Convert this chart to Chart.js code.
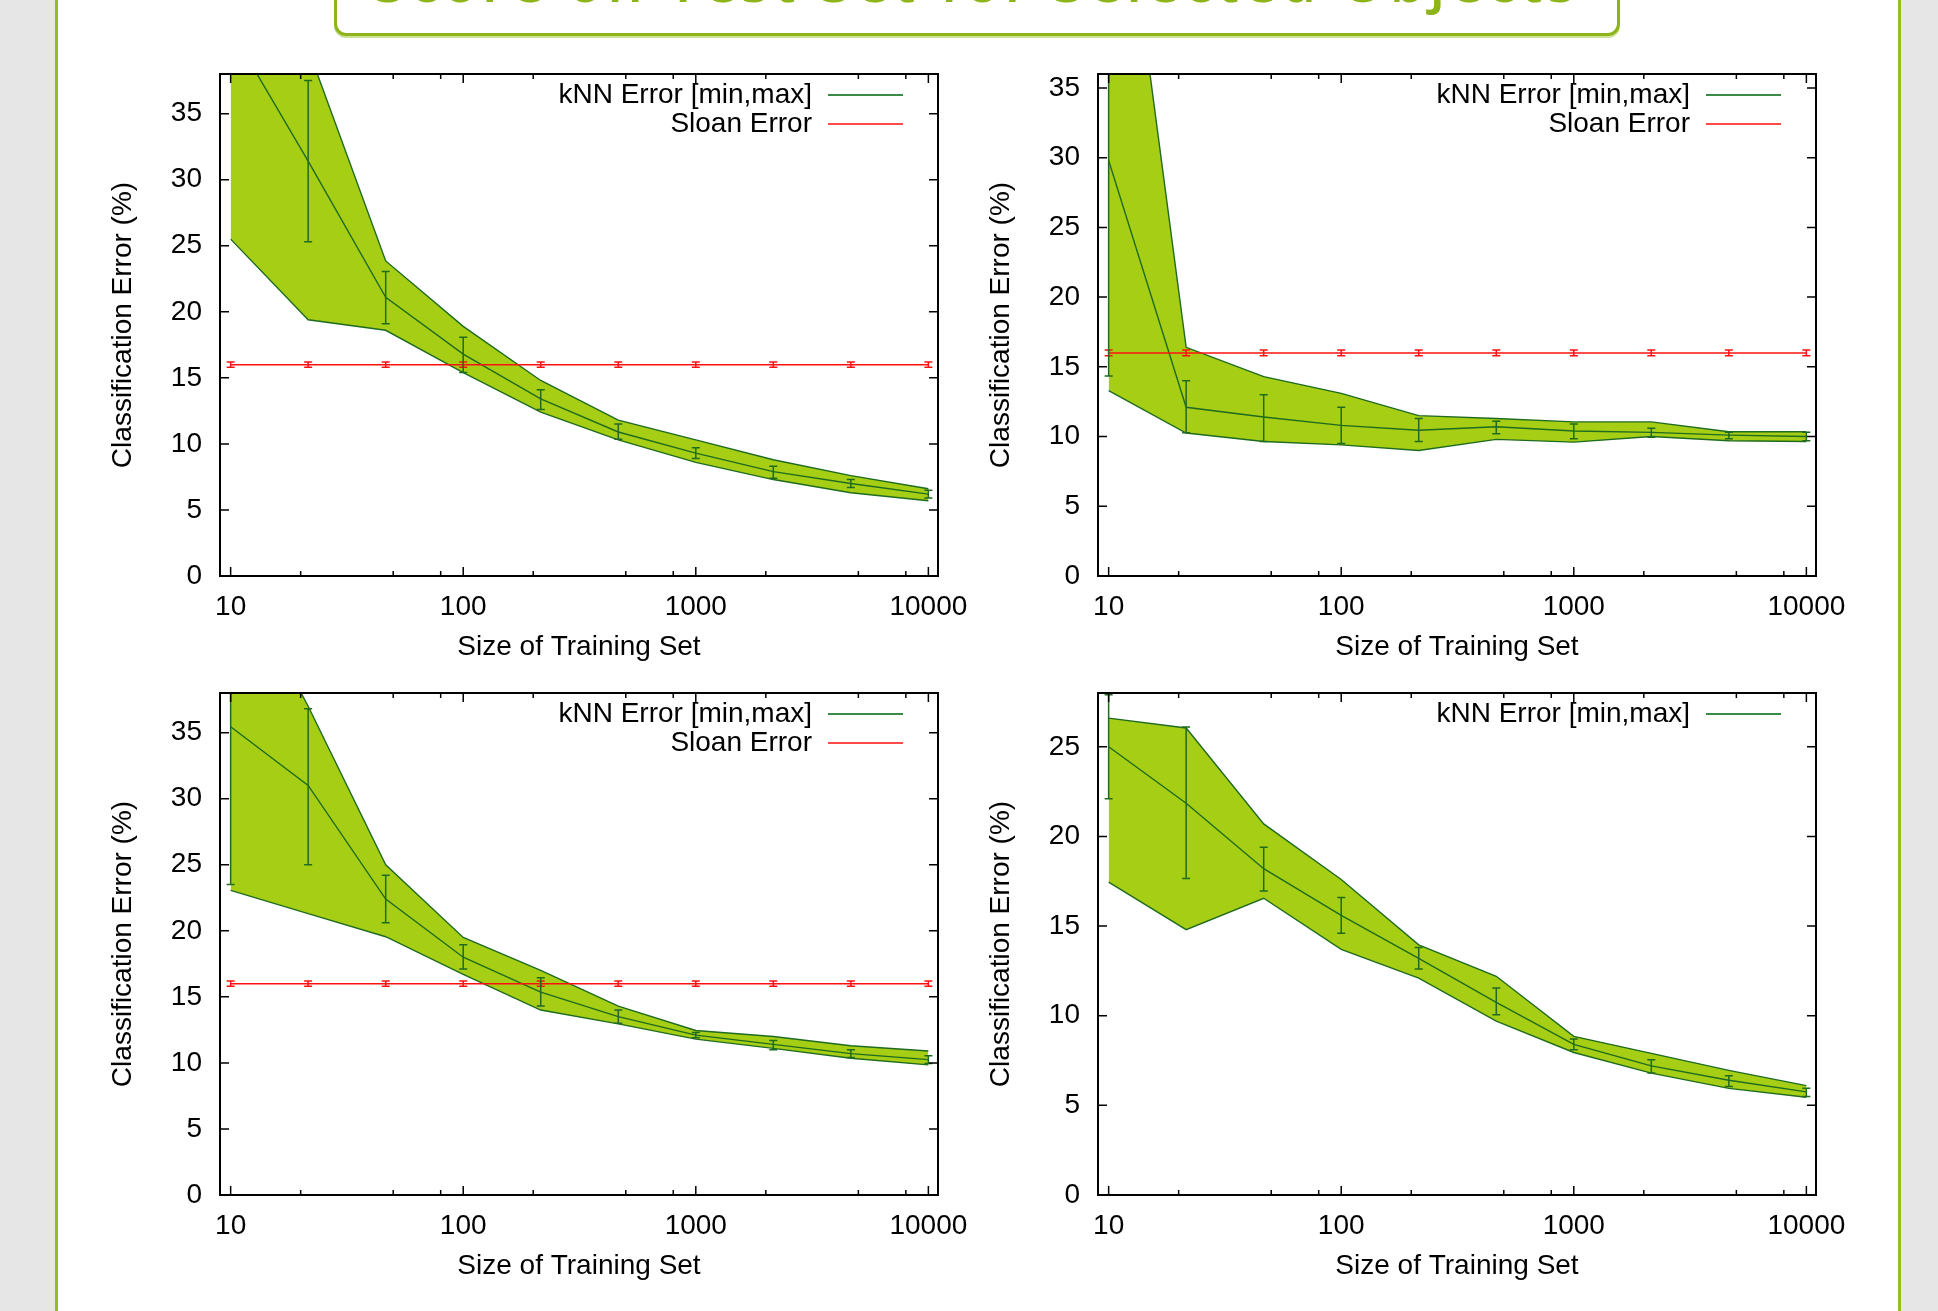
<!DOCTYPE html>
<html>
<head>
<meta charset="utf-8">
<script src="https://cdn.jsdelivr.net/npm/chart.js@4.4.1/dist/chart.umd.min.js"></script>
<style>
  html, body { margin: 0; padding: 0; }
  body { width: 1938px; height: 1311px; background: #e6e6e6; position: relative; overflow: hidden; }
  #panel { position: absolute; left: 55px; top: 0; width: 1846px; height: 1311px; box-sizing: border-box;
           background: #fff; border-left: 3px solid #95bd1c; border-right: 3px solid #95bd1c; }
  #titleBox { position: absolute; left: 334px; top: -60px; width: 1286px; height: 96px; box-sizing: border-box;
              border: 3px solid #8db51a; border-radius: 12px; background: #fff; box-shadow: 0 2px 0 #cde19a; }
  #titleText { position: absolute; left: 0; right: 0; top: 9px; text-align: center; white-space: nowrap;
               font: 600 56px "Open Sans", sans-serif; line-height: 1; color: #8db51a; letter-spacing: 5px; }
  canvas { position: absolute; }
</style>
</head>
<body>
<div id="panel"></div>
<div id="titleBox"><div id="titleText">Score on Test Set for Selected Objects</div></div>
<canvas id="chart1" width="918" height="642" style="left:70px;top:34px"></canvas>
<canvas id="chart2" width="918" height="642" style="left:948px;top:34px"></canvas>
<canvas id="chart3" width="918" height="642" style="left:70px;top:653px"></canvas>
<canvas id="chart4" width="918" height="642" style="left:948px;top:653px"></canvas>
<script>
// tamaños del conjunto de entrenamiento (eje x, log)
const trainingSizes = [10, 21.54, 46.42, 100, 215.4, 464.2, 1000, 2154, 4642, 10000];
const xMajorTicks = [10, 100, 1000, 10000];
const xMinorTicks = [20, 50, 80, 200, 500, 800, 2000, 5000, 8000];
const yTicksTall = [0, 5, 10, 15, 20, 25, 30, 35];
const yTicksShort = [0, 5, 10, 15, 20, 25];

// Sloan
const sloanError = [16, 16, 16, 16, 16, 16, 16, 16, 16, 16];
const sloanErrLow = [15.8, 15.8, 15.8, 15.8, 15.8, 15.8, 15.8, 15.8, 15.8, 15.8];
const sloanErrHigh = [16.2, 16.2, 16.2, 16.2, 16.2, 16.2, 16.2, 16.2, 16.2, 16.2];

// 1. arriba izquierda
const knn1Mean = [41.4, 31.4, 21.1, 16.8, 13.4, 10.9, 9.3, 7.9, 7.0, 6.2];
const knn1ErrLow = [29.4, 25.3, 19.1, 15.4, 12.6, 10.35, 8.9, 7.4, 6.7, 5.9];
const knn1ErrHigh = [53.4, 37.5, 23.05, 18.07, 14.1, 11.5, 9.7, 8.3, 7.3, 6.5];
const knn1Min = [25.5, 19.4, 18.6, 15.4, 12.4, 10.3, 8.6, 7.3, 6.3, 5.7];
const knn1Max = [52, 39.9, 23.85, 18.9, 14.8, 11.8, 10.3, 8.8, 7.6, 6.6];

// 2. arriba derecha
const knn2Mean = [29.8, 12.1, 11.4, 10.8, 10.45, 10.7, 10.4, 10.3, 10.1, 10.0];
const knn2ErrLow = [14.35, 10.28, 9.65, 9.5, 9.65, 10.2, 9.85, 9.95, 9.85, 9.7];
const knn2ErrHigh = [45.2, 14.0, 13.0, 12.1, 11.3, 11.1, 10.9, 10.6, 10.3, 10.3];
const knn2Min = [13.3, 10.25, 9.65, 9.4, 9.0, 9.8, 9.6, 10.0, 9.7, 9.65];
const knn2Max = [58.4, 16.4, 14.3, 13.1, 11.5, 11.3, 11.05, 11.05, 10.35, 10.35];

// 3. abajo izquierda
const knn3Mean = [35.45, 31.0, 22.4, 18.0, 15.35, 13.5, 12.1, 11.4, 10.7, 10.25];
const knn3ErrLow = [23.5, 25.0, 20.6, 17.1, 14.3, 13.0, 11.9, 11.0, 10.4, 9.95];
const knn3ErrHigh = [47.4, 36.8, 24.2, 18.95, 16.45, 14.0, 12.3, 11.7, 11.0, 10.55];
const knn3Min = [23.06, 21.3, 19.55, 16.7, 14.0, 12.95, 11.8, 11.1, 10.35, 9.85];
const knn3Max = [48, 37.0, 25.0, 19.5, 17.0, 14.3, 12.45, 12.0, 11.3, 10.9];

// 4. abajo derecha
const knn4Mean = [25.0, 21.85, 18.2, 15.6, 13.2, 10.75, 8.4, 7.2, 6.4, 5.75];
const knn4ErrLow = [22.1, 17.65, 16.95, 14.6, 12.6, 10.05, 8.1, 6.8, 6.05, 5.5];
const knn4ErrHigh = [27.9, 26.1, 19.4, 16.6, 13.8, 11.55, 8.7, 7.55, 6.65, 5.95];
const knn4Min = [17.45, 14.8, 16.55, 13.7, 12.1, 9.7, 7.95, 6.8, 5.95, 5.45];
const knn4Max = [26.6, 26.05, 20.7, 17.6, 13.95, 12.2, 8.85, 7.9, 6.95, 6.1];

const FONT = { family: "'Liberation Sans', Arial, sans-serif", size: 28 };
const GREEN_LINE = "#1f6b1f";
const GREEN_FILL = "#a6ce14";
const RED = "#ff1010";

function puntos(valores) {
  return trainingSizes.map((x, i) => ({ x: x, y: valores[i] }));
}

function dibujarBarras(ctx, area, xs, ys, lo, hi, color) {
  ctx.save();
  ctx.beginPath();
  ctx.rect(area.left, area.top, area.right - area.left, area.bottom - area.top);
  ctx.clip();
  ctx.strokeStyle = color;
  ctx.lineWidth = 1.5;
  return function (xScale, yScale) {
    for (let i = 0; i < xs.length; i++) {
      // como gnuplot: no se dibuja la barra si el punto queda fuera de rango
      if (ys[i] < yScale.min || ys[i] > yScale.max) continue;
      const x = xScale.getPixelForValue(xs[i]);
      const y1 = yScale.getPixelForValue(lo[i]);
      const y2 = yScale.getPixelForValue(hi[i]);
      ctx.beginPath();
      ctx.moveTo(x, y1); ctx.lineTo(x, y2);
      ctx.moveTo(x - 4, y1); ctx.lineTo(x + 4, y1);
      ctx.moveTo(x - 4, y2); ctx.lineTo(x + 4, y2);
      ctx.stroke();
    }
    ctx.restore();
  };
}

function crearGrafico(id, spec) {
  const datasets = [];
  if (spec.sloan) {
    datasets.push({ label: "Sloan Error", data: puntos(sloanError), borderColor: RED, borderWidth: 1.5, pointRadius: 0, fill: false });
  }
  datasets.push({ label: "kNN Error [min,max]", data: puntos(spec.mean), borderColor: GREEN_LINE, borderWidth: 1.4, pointRadius: 0, fill: false });
  datasets.push({ label: "max", data: puntos(spec.max), borderColor: GREEN_LINE, borderWidth: 1.4, pointRadius: 0, fill: "+1", backgroundColor: GREEN_FILL });
  datasets.push({ label: "min", data: puntos(spec.min), borderColor: GREEN_LINE, borderWidth: 1.4, pointRadius: 0, fill: false });

  const extras = {
    id: "extras",
    afterDatasetsDraw(chart) {
      const ctx = chart.ctx;
      const a = chart.chartArea;
      const xs = chart.scales.x, ys = chart.scales.y;
      if (spec.sloan) dibujarBarras(ctx, a, trainingSizes, sloanError, sloanErrLow, sloanErrHigh, RED)(xs, ys);
      dibujarBarras(ctx, a, trainingSizes, spec.mean, spec.errLow, spec.errHigh, GREEN_LINE)(xs, ys);

      // marco y marcas hacia dentro, en los cuatro lados
      ctx.save();
      ctx.strokeStyle = "#000";
      ctx.lineWidth = 2;
      ctx.strokeRect(a.left, a.top, a.right - a.left, a.bottom - a.top);
      ctx.lineWidth = 1.5;
      ctx.beginPath();
      const marcaX = (v, len) => {
        const x = xs.getPixelForValue(v);
        ctx.moveTo(x, a.bottom); ctx.lineTo(x, a.bottom - len);
        ctx.moveTo(x, a.top); ctx.lineTo(x, a.top + len);
      };
      xMajorTicks.forEach(v => marcaX(v, 9));
      xMinorTicks.forEach(v => marcaX(v, 5));
      spec.yTicks.forEach(v => {
        const y = ys.getPixelForValue(v);
        ctx.moveTo(a.left, y); ctx.lineTo(a.left + 9, y);
        ctx.moveTo(a.right, y); ctx.lineTo(a.right - 9, y);
      });
      ctx.stroke();
      ctx.restore();
    },
    afterDraw(chart) {
      // leyenda estilo gnuplot: texto a la derecha y muestra de línea
      const ctx = chart.ctx;
      const a = chart.chartArea;
      const filas = [{ texto: "kNN Error [min,max]", color: "#3a8a48" }];
      if (spec.sloan) filas.push({ texto: "Sloan Error", color: "#ff4a4a" });
      ctx.save();
      ctx.font = FONT.size + "px " + FONT.family;
      ctx.fillStyle = "#000";
      ctx.textAlign = "right";
      ctx.textBaseline = "middle";
      filas.forEach((f, i) => {
        const y = a.top + 21 + i * 29;
        ctx.fillText(f.texto, a.right - 126, y);
        ctx.strokeStyle = f.color;
        ctx.lineWidth = 2;
        ctx.beginPath();
        ctx.moveTo(a.right - 110, y); ctx.lineTo(a.right - 35, y);
        ctx.stroke();
      });
      ctx.restore();
    }
  };

  return new Chart(document.getElementById(id), {
    type: "line",
    data: { datasets: datasets },
    options: {
      responsive: false,
      animation: false,
      events: [],
      layout: { padding: { top: 40, right: 50, bottom: 0, left: 0 } },
      plugins: {
        legend: { display: false },
        tooltip: { enabled: false },
        filler: { drawTime: "beforeDatasetsDraw" }
      },
      scales: {
        x: {
          type: "logarithmic",
          min: 9,
          max: 11000,
          afterBuildTicks: s => { s.ticks = xMajorTicks.map(v => ({ value: v })); },
          afterFit: s => { s.height = 100; },
          ticks: { autoSkip: false, maxRotation: 0, minRotation: 0, padding: 14, color: "#000", font: FONT,
                   callback: v => String(v) },
          grid: { display: false, drawTicks: false },
          border: { display: false },
          title: { display: true, text: "Size of Training Set", color: "#000", font: FONT, padding: { top: 0, bottom: 12 } }
        },
        y: {
          type: "linear",
          min: 0,
          max: spec.yMax,
          afterBuildTicks: s => { s.ticks = spec.yTicks.map(v => ({ value: v })); },
          afterFit: s => { s.width = 150; },
          ticks: { padding: 18, color: "#000", font: FONT, callback: v => String(v) },
          grid: { display: false, drawTicks: false },
          border: { display: false },
          title: { display: true, text: "Classification Error (%)", color: "#000", font: FONT, padding: { top: 36, bottom: 0 } }
        }
      }
    },
    plugins: [extras]
  });
}

document.addEventListener("DOMContentLoaded", () => {
  crearGrafico("chart1", { yMax: 38, yTicks: yTicksTall, sloan: true,
    mean: knn1Mean, errLow: knn1ErrLow, errHigh: knn1ErrHigh, min: knn1Min, max: knn1Max });
  crearGrafico("chart2", { yMax: 36, yTicks: yTicksTall, sloan: true,
    mean: knn2Mean, errLow: knn2ErrLow, errHigh: knn2ErrHigh, min: knn2Min, max: knn2Max });
  crearGrafico("chart3", { yMax: 38, yTicks: yTicksTall, sloan: true,
    mean: knn3Mean, errLow: knn3ErrLow, errHigh: knn3ErrHigh, min: knn3Min, max: knn3Max });
  crearGrafico("chart4", { yMax: 28, yTicks: yTicksShort, sloan: false,
    mean: knn4Mean, errLow: knn4ErrLow, errHigh: knn4ErrHigh, min: knn4Min, max: knn4Max });
});
</script>
</body>
</html>
